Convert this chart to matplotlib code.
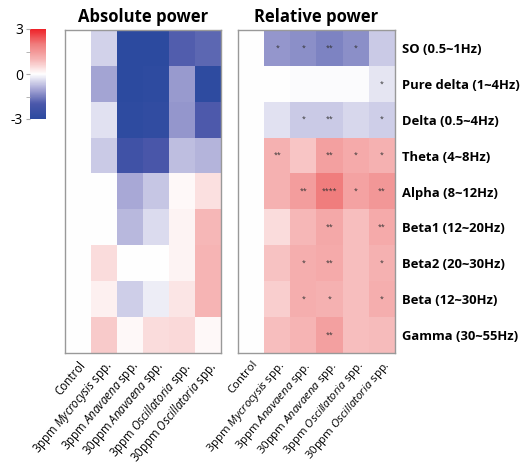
import numpy as np
import matplotlib
matplotlib.use("Agg")
import matplotlib.pyplot as plt
from matplotlib.colors import LinearSegmentedColormap, Normalize
import matplotlib.cm as cm

plt.rcParams['font.family'] = ['Open Sans', 'DejaVu Sans']
plt.rcParams['mathtext.fontset'] = 'custom'
plt.rcParams['mathtext.it'] = 'Open Sans:italic'
plt.rcParams['mathtext.rm'] = 'Open Sans'

groups = ["Control",
          "3ppm $Mycrocysis$ spp.",
          "3ppm $Anavaena$ spp.",
          "30ppm $Anavaena$ spp.",
          "3ppm $Oscillatoria$ spp.",
          "30ppm $Oscillatoria$ spp."]
bands = ["SO (0.5~1Hz)", "Pure delta (1~4Hz)", "Delta (0.5~4Hz)", "Theta (4~8Hz)",
         "Alpha (8~12Hz)", "Beta1 (12~20Hz)", "Beta2 (20~30Hz)", "Beta (12~30Hz)",
         "Gamma (30~55Hz)"]

abs_power = [
    [0, -0.5, -3.0, -3.0, -1.9, -1.8],
    [0, -1.05, -3.0, -2.9, -1.15, -2.9],
    [0, -0.35, -2.9, -2.8, -1.2, -1.95],
    [0, -0.6, -2.3, -2.0, -0.75, -0.85],
    [0, 0.02, -1.0, -0.65, 0.08, 0.4],
    [0, 0.02, -0.8, -0.4, 0.15, 0.95],
    [0, 0.45, 0.0, 0.0, 0.15, 1.0],
    [0, 0.2, -0.55, -0.2, 0.35, 1.0],
    [0, 0.7, 0.08, 0.45, 0.5, 0.08],
]
rel_power = [
    [0, -1.2, -1.3, -1.45, -1.3, -0.6],
    [0, 0.02, -0.03, -0.03, -0.03, -0.3],
    [0, -0.35, -0.6, -0.6, -0.45, -0.55],
    [0, 1.05, 0.75, 1.35, 1.15, 1.05],
    [0, 1.05, 1.4, 1.95, 1.3, 1.5],
    [0, 0.45, 0.95, 1.2, 0.85, 1.15],
    [0, 0.8, 1.1, 1.15, 0.85, 1.05],
    [0, 0.65, 1.1, 1.05, 0.85, 1.1],
    [0, 0.85, 1.0, 1.35, 0.85, 0.9],
]
rel_stars = [
    ["", "*", "*", "**", "*", ""],
    ["", "", "", "", "", "*"],
    ["", "", "*", "**", "", "*"],
    ["", "**", "", "**", "*", "*"],
    ["", "", "**", "****", "*", "**"],
    ["", "", "", "**", "", "**"],
    ["", "", "*", "**", "", "*"],
    ["", "", "*", "*", "", "*"],
    ["", "", "", "**", "", ""],
]
cbar_ticks = [-3, 0, 3]

vmin, vmax = -3, 3
nodes = [(-3, "#2c4a9f"), (-2, "#4a57aa"), (-1, "#a8a8d6"), (0, "#ffffff"),
         (1, "#f6b4b4"), (2, "#f07c7c"), (3, "#ee2228")]
cmap = LinearSegmentedColormap.from_list(
    "bwr_custom", [((v - vmin) / (vmax - vmin), c) for v, c in nodes])
norm = Normalize(vmin, vmax)

W, H = 531, 468
fig = plt.figure(figsize=(W / 100, H / 100), dpi=100)

def px_axes(x0, y0, x1, y1):
    return fig.add_axes([x0 / W, 1 - y1 / H, (x1 - x0) / W, (y1 - y0) / H])

axL = px_axes(65, 30, 221, 353)
axR = px_axes(238, 30, 395, 353)
cax = px_axes(30, 29, 46, 119)

for ax, data, title, fs, rot in [(axL, abs_power, "Absolute power", 8.3, 50),
                                 (axR, rel_power, "Relative power", 8.2, 50)]:
    arr = np.array(data)
    ax.imshow(arr, cmap=cmap, norm=norm, aspect='auto', interpolation='nearest')
    ax.set_title(title, fontsize=12, fontweight='bold', pad=6)
    ax.set_xticks(range(len(groups)))
    ax.set_xticklabels(groups, rotation=rot, ha='right', rotation_mode='anchor', fontsize=fs)
    ax.tick_params(axis='both', length=0, pad=4)
    for s in ax.spines.values():
        s.set_color('#999999')
        s.set_linewidth(1.0)

axL.set_yticks([])
axR.set_yticks(range(len(bands)))
axR.set_yticklabels(bands, fontsize=9.4, fontweight='bold')
axR.yaxis.tick_right()
axR.tick_params(axis='y', pad=5, length=0)

for i, row in enumerate(rel_stars):
    for j, s in enumerate(row):
        if s:
            axR.text(j, i, s, ha='center', va='center', fontsize=5, color='#333333')

sm = cm.ScalarMappable(norm=norm, cmap=cmap)
cb = fig.colorbar(sm, cax=cax)
cb.outline.set_visible(False)
cb.set_ticks(cbar_ticks)
cb.set_ticklabels([str(t) for t in cbar_ticks])
cb.ax.set_yticks([-1.5, 1.5], minor=True)
cax.yaxis.set_ticks_position('left')
cax.tick_params(which='both', length=3, color='#aaaaaa', labelsize=10, pad=2)

fig.savefig("out.png", dpi=100)
